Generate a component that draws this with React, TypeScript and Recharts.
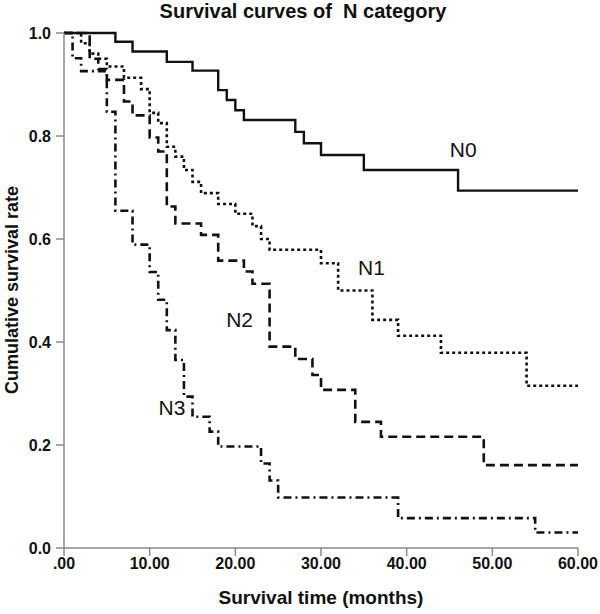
import { LineChart, Line, XAxis, YAxis, ReferenceDot } from 'recharts';

// months at which each curve steps, and the survival rate after the step
const n0Times = [0, 6, 8, 12, 15, 18, 19, 20, 21, 27, 28, 30, 35, 46, 60];
const n0Surv = [1.0, 0.983, 0.964, 0.944, 0.927, 0.889, 0.87, 0.85, 0.831, 0.808, 0.786, 0.763, 0.734, 0.694, 0.694];

const n1Times = [0, 2, 3, 4, 5, 7, 9, 10, 11, 12, 13, 14, 15, 16, 18, 20, 22, 23, 24, 30, 32, 36, 39, 44, 54, 60];
const n1Surv = [1.0, 0.98, 0.96, 0.95, 0.935, 0.913, 0.891, 0.845, 0.825, 0.779, 0.76, 0.734, 0.711, 0.689, 0.668, 0.649, 0.625, 0.6, 0.579, 0.553, 0.5, 0.443, 0.412, 0.379, 0.315, 0.315];

const n2Times = [0, 3, 4, 5, 7, 8, 10, 11, 12, 13, 16, 18, 21, 22, 24, 27, 29, 30, 34, 37, 49, 60];
const n2Surv = [1.0, 0.95, 0.93, 0.909, 0.867, 0.84, 0.797, 0.77, 0.663, 0.63, 0.608, 0.558, 0.537, 0.513, 0.391, 0.367, 0.336, 0.307, 0.245, 0.216, 0.161, 0.161];

const n3Times = [0, 1, 2, 5, 6, 8, 10, 11, 12, 13, 14, 15, 17, 18, 23, 24, 25, 39, 55, 60];
const n3Surv = [1.0, 0.951, 0.926, 0.847, 0.655, 0.589, 0.536, 0.482, 0.423, 0.365, 0.294, 0.255, 0.226, 0.197, 0.164, 0.131, 0.098, 0.058, 0.03, 0.03];

const xTicks = [0, 10, 20, 30, 40, 50, 60];
const yTicks = [0, 0.2, 0.4, 0.6, 0.8, 1.0];

const groupLabels = [
  { name: 'N0', t: 46.6, s: 0.773 },
  { name: 'N1', t: 35.9, s: 0.544 },
  { name: 'N2', t: 20.5, s: 0.443 },
  { name: 'N3', t: 12.6, s: 0.272 },
];

const toSeries = (times: number[], surv: number[]) => times.map((t, i) => ({ t, s: surv[i] }));

const font = 'Arial, "Liberation Sans", sans-serif';
const axisGray = '#8a8a8a';
const tickStyle = { fill: '#111', fontSize: 16, fontWeight: 700, fontFamily: font };

export default function App() {
  return (
    <div style={{ position: 'absolute', left: 0, top: 0, width: 600, height: 614, background: '#fff', fontFamily: font }}>
      <div style={{ position: 'absolute', top: 0, left: 0, width: 606, textAlign: 'center', fontSize: 20, fontWeight: 700, whiteSpace: 'pre', color: '#111' }}>
        {'Survival curves of  N category'}
      </div>
      <div
        style={{
          position: 'absolute', left: 12, top: 290, transform: 'translate(-50%, -50%) rotate(-90deg)',
          fontSize: 18, fontWeight: 700, whiteSpace: 'nowrap', color: '#111',
        }}
      >
        Cumulative survival rate
      </div>
      <div style={{ position: 'absolute', top: 587, left: 64, width: 514, textAlign: 'center', fontSize: 19, fontWeight: 700, color: '#111' }}>
        Survival time (months)
      </div>
      <LineChart width={600} height={614} margin={{ top: 33, right: 22, bottom: 0, left: 0 }}>
        <XAxis
          type="number"
          dataKey="t"
          domain={[0, 60]}
          ticks={xTicks}
          tickFormatter={(v) => (v === 0 ? '.00' : v.toFixed(2))}
          height={66}
          stroke={axisGray}
          strokeWidth={1.5}
          tickSize={8}
          tick={tickStyle}
          allowDuplicatedCategory={false}
        />
        <YAxis
          type="number"
          dataKey="s"
          domain={[0, 1]}
          ticks={yTicks}
          tickFormatter={(v) => v.toFixed(1)}
          width={64}
          stroke={axisGray}
          strokeWidth={1.5}
          tickSize={8}
          tickMargin={5}
          tick={tickStyle}
        />
        <Line data={toSeries(n0Times, n0Surv)} dataKey="s" type="stepAfter" stroke="#111" strokeWidth={2.4} dot={false} isAnimationActive={false} />
        <Line data={toSeries(n1Times, n1Surv)} dataKey="s" type="stepAfter" stroke="#111" strokeWidth={2.6} strokeDasharray="3 3" dot={false} isAnimationActive={false} />
        <Line data={toSeries(n2Times, n2Surv)} dataKey="s" type="stepAfter" stroke="#111" strokeWidth={2.6} strokeDasharray="9 5" dot={false} isAnimationActive={false} />
        <Line data={toSeries(n3Times, n3Surv)} dataKey="s" type="stepAfter" stroke="#111" strokeWidth={2.6} strokeDasharray="8 4 2 4" dot={false} isAnimationActive={false} />
        {groupLabels.map((g) => (
          <ReferenceDot
            key={g.name}
            x={g.t}
            y={g.s}
            r={0}
            fill="none"
            stroke="none"
            label={{ value: g.name, position: 'center', fill: '#111', fontSize: 21, fontFamily: font }}
          />
        ))}
      </LineChart>
    </div>
  );
}
